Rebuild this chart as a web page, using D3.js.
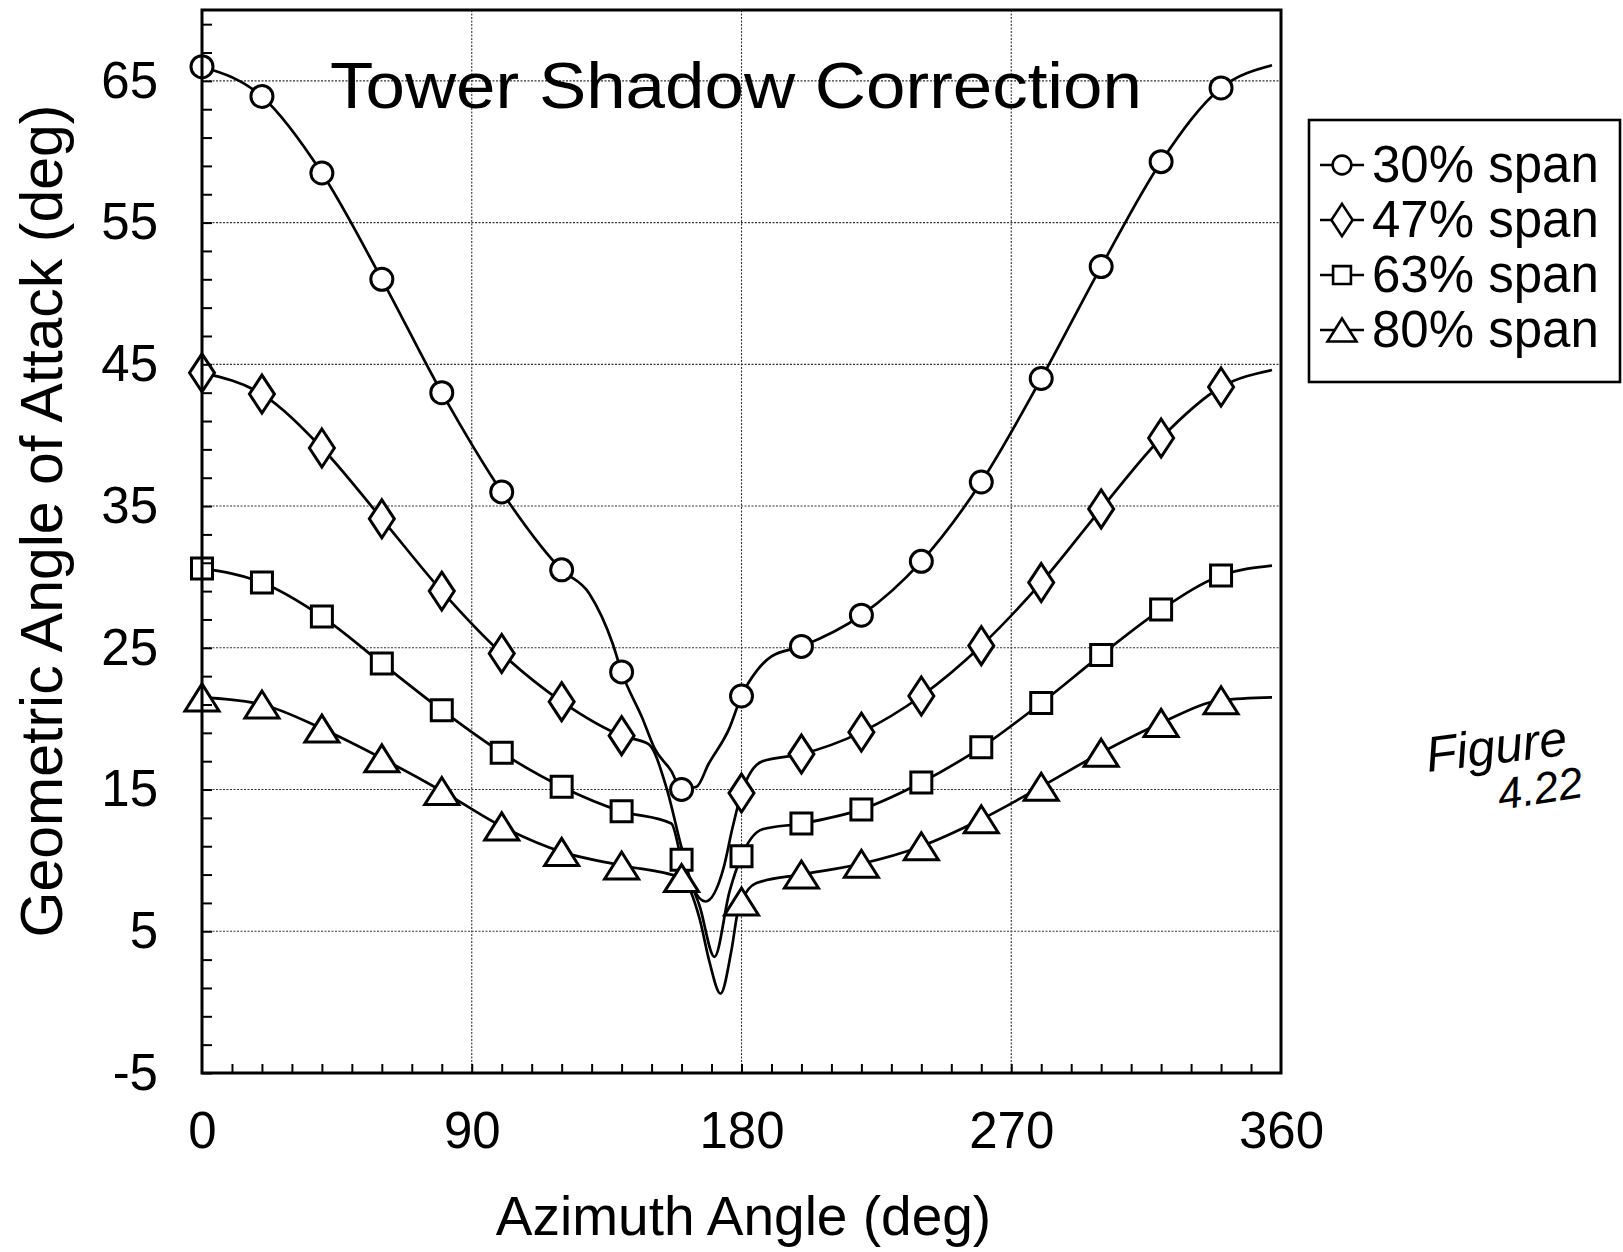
<!DOCTYPE html>
<html><head><meta charset="utf-8">
<script src="https://cdn.jsdelivr.net/npm/d3@7"></script>
<style>
body{margin:0;background:#fff}
svg{display:block;background:#fff}
text{font-family:"Liberation Sans",Arial,Helvetica,sans-serif;fill:#000}
</style>
</head><body>
<svg id="chart" width="1623" height="1252"></svg>
<script>
// ---- data ----
const markerAzimuth = [0,20,40,60,80,100,120,140,160,180,200,220,240,260,280,300,320,340];
const span30 = [66.0,63.9,58.5,51.0,43.0,36.0,30.5,23.3,15.0,21.6,25.1,27.3,31.1,36.7,44.0,51.9,59.3,64.5];
const span47 = [44.4,42.9,39.1,34.1,29.0,24.6,21.2,18.8,null,14.75,17.5,19.05,21.6,25.15,29.6,34.8,39.8,43.4];
const span63 = [30.6,29.6,27.2,23.9,20.6,17.6,15.2,13.46,10.05,10.3,12.6,13.6,15.5,17.98,21.1,24.5,27.7,30.1];
const span80 = [21.5,21.0,19.3,17.2,14.9,12.4,10.6,9.64,8.75,7.1,9.0,9.76,11.0,12.9,15.2,17.6,19.7,21.3];

// traced curve points (azimuth, angle) including the tower-shadow dips
const line30 = [[0,66.0],[20,63.9],[40,58.5],[60,51.0],[80,43.0],[100,36.0],[120,30.5],[129.3,28.8],[137,25.3],[140,23.3],[147,20.0],[151,17.9],[156.6,16.3],[160,15.0],[165,15.2],[169,16.8],[176,19.35],[180,21.6],[185,23.35],[190,24.4],[200,25.1],[220,27.3],[240,31.1],[260,36.7],[280,44.0],[300,51.9],[320,59.3],[340,64.5],[357,66.1]];
const line47 = [[0,44.4],[20,42.9],[40,39.1],[60,34.1],[80,29.0],[100,24.6],[120,21.2],[140,18.8],[149,18.2],[155,15.1],[160,10.9],[164,8.0],[168,7.1],[174,9.45],[177,12.3],[180,14.75],[187,17.0],[200,17.5],[220,19.05],[240,21.6],[260,25.15],[280,29.6],[300,34.8],[320,39.8],[340,43.4],[357,44.6]];
const line63 = [[0,30.6],[20,29.6],[40,27.2],[60,23.9],[80,20.6],[100,17.6],[120,15.2],[140,13.46],[156.6,12.6],[160,10.05],[166,6.8],[171,3.2],[176,7.8],[180,10.3],[187,12.2],[200,12.6],[220,13.6],[240,15.5],[260,17.98],[280,21.1],[300,24.5],[320,27.7],[340,30.1],[357,30.8]];
const line80 = [[0,21.5],[20,21.0],[40,19.3],[60,17.2],[80,14.9],[100,12.4],[120,10.6],[140,9.64],[160,8.75],[166,5.9],[169.3,2.85],[173,0.6],[176.6,3.6],[178.8,6.4],[180,7.1],[185,8.4],[200,9.0],[220,9.76],[240,11.0],[260,12.9],[280,15.2],[300,17.6],[320,19.7],[340,21.3],[357,21.5]];

const seriesNames = ["30% span","47% span","63% span","80% span"];
const seriesShapes = ["circle","diamond","square","triangle"];
const xTickLabels = ["0","90","180","270","360"];
const yTickLabels = ["-5","5","15","25","35","45","55","65"];
const titleText = "Tower Shadow Correction";
const xTitle = "Azimuth Angle (deg)";
const yTitle = "Geometric Angle of Attack (deg)";
const noteLines = ["Figure","4.22"];

// ---- drawing ----
const svg = d3.select("#chart");
const x = d3.scaleLinear().domain([0,360]).range([202,1281]);
const y = d3.scaleLinear().domain([-5,70]).range([1073,10]);

// grid
const grid = svg.append("g").attr("stroke","#333").attr("stroke-width",1.1).attr("stroke-dasharray","2,1.5");
grid.selectAll(".gx").data([90,180,270]).join("line")
  .attr("x1",d=>x(d)).attr("x2",d=>x(d)).attr("y1",y(70)).attr("y2",y(-5));
grid.selectAll(".gy").data([5,15,25,35,45,55,65]).join("line")
  .attr("x1",x(0)).attr("x2",x(360)).attr("y1",d=>y(d)).attr("y2",d=>y(d));

// title (over the grid)
svg.append("text").attr("x",330).attr("y",108).attr("font-size",65)
  .attr("textLength",812).attr("lengthAdjust","spacingAndGlyphs").text(titleText);

// lines
const lineGen = d3.line().x(d=>x(d[0])).y(d=>y(d[1])).curve(d3.curveMonotoneX);
const lines = [line30,line47,line63,line80];
svg.append("g").selectAll("path").data(lines).join("path")
  .attr("d",lineGen).attr("fill","none").attr("stroke","#000").attr("stroke-width",2.7)
  .attr("stroke-linejoin","round");

// markers
function markerPath(shape, s){
  s = s||1;
  if(shape==="circle"){ const r=11*s; return `M${-r},0a${r},${r} 0 1,0 ${2*r},0a${r},${r} 0 1,0 ${-2*r},0Z`; }
  if(shape==="diamond"){ const w=12.5*s,h=19*s; return `M0,${-h}L${w},0L0,${h}L${-w},0Z`; }
  if(shape==="square"){ const a=10.5*s; return `M${-a},${-a}H${a}V${a}H${-a}Z`; }
  const w=17*s,h=13.5*s; return `M0,${-h}L${w},${h}L${-w},${h}Z`;
}
const values = [span30,span47,span63,span80];
values.forEach((vals,i)=>{
  const pts = markerAzimuth.map((a,j)=>[a,vals[j]]).filter(d=>d[1]!==null);
  svg.append("g").selectAll("path").data(pts).join("path")
    .attr("transform",d=>`translate(${x(d[0])},${y(d[1])})`)
    .attr("d",markerPath(seriesShapes[i]))
    .attr("fill","#fff").attr("stroke","#000").attr("stroke-width",3);
});

// minor ticks
const yTicks = d3.axisLeft(y).tickValues(d3.range(-5,70,2)).tickSize(-10).tickFormat("");
const gyt = svg.append("g").attr("transform",`translate(${x(0)},0)`).call(yTicks);
gyt.select(".domain").remove();
gyt.selectAll("line").attr("stroke","#000").attr("stroke-width",2);
const xTicks = d3.axisBottom(x).tickValues(d3.range(10,360,10)).tickSize(-9).tickFormat("");
const gxt = svg.append("g").attr("transform",`translate(0,${y(-5)})`).call(xTicks);
gxt.select(".domain").remove();
gxt.selectAll("line").attr("stroke","#000").attr("stroke-width",2);

// tick labels
const yLab = d3.axisLeft(y).tickValues(yTickLabels.map(Number)).tickSize(0).tickPadding(44)
  .tickFormat((d,i)=>yTickLabels[i]);
const gyl = svg.append("g").attr("transform",`translate(${x(0)},0)`).call(yLab);
gyl.select(".domain").remove();
gyl.selectAll("text").attr("font-size",51).attr("font-family","Liberation Sans, Arial, sans-serif").attr("fill","#000");
const xLab = d3.axisBottom(x).tickValues(xTickLabels.map(Number)).tickSize(0).tickPadding(39)
  .tickFormat((d,i)=>xTickLabels[i]);
const gxl = svg.append("g").attr("transform",`translate(0,${y(-5)})`).call(xLab);
gxl.select(".domain").remove();
gxl.selectAll("text").attr("font-size",51).attr("font-family","Liberation Sans, Arial, sans-serif").attr("fill","#000");

// frame
svg.append("rect").attr("x",x(0)).attr("y",y(70)).attr("width",x(360)-x(0)).attr("height",y(-5)-y(70))
  .attr("fill","none").attr("stroke","#000").attr("stroke-width",3);

// axis titles
svg.append("text").attr("x",(x(0)+x(360))/2+2).attr("y",1235).attr("text-anchor","middle")
  .attr("font-size",55).text(xTitle);
svg.append("text").attr("transform","translate(62,521) rotate(-90)").attr("text-anchor","middle")
  .attr("font-size",59).text(yTitle);

// legend
const lg = svg.append("g");
lg.append("rect").attr("x",1309).attr("y",120).attr("width",311).attr("height",262)
  .attr("fill","#fff").attr("stroke","#000").attr("stroke-width",2.6);
seriesNames.forEach((name,i)=>{
  const base = 182 + i*55;
  const cy = base - 17;
  lg.append("line").attr("x1",1320).attr("x2",1364).attr("y1",cy).attr("y2",cy)
    .attr("stroke","#000").attr("stroke-width",2.4);
  lg.append("path").attr("transform",`translate(1342,${cy})`).attr("d",markerPath(seriesShapes[i],0.85))
    .attr("fill","#fff").attr("stroke","#000").attr("stroke-width",2.6);
  lg.append("text").attr("x",1372).attr("y",base).attr("font-size",51).text(name);
});

// handwritten note
svg.append("text").attr("transform","translate(1428,772) rotate(-7)").attr("font-size",50)
  .attr("font-style","italic").attr("font-family","DejaVu Sans, sans-serif").text(noteLines[0]);
svg.append("text").attr("transform","translate(1500,810) rotate(-9)").attr("font-size",44)
  .attr("font-style","italic").attr("font-family","DejaVu Sans, sans-serif").text(noteLines[1]);
</script>
</body></html>
